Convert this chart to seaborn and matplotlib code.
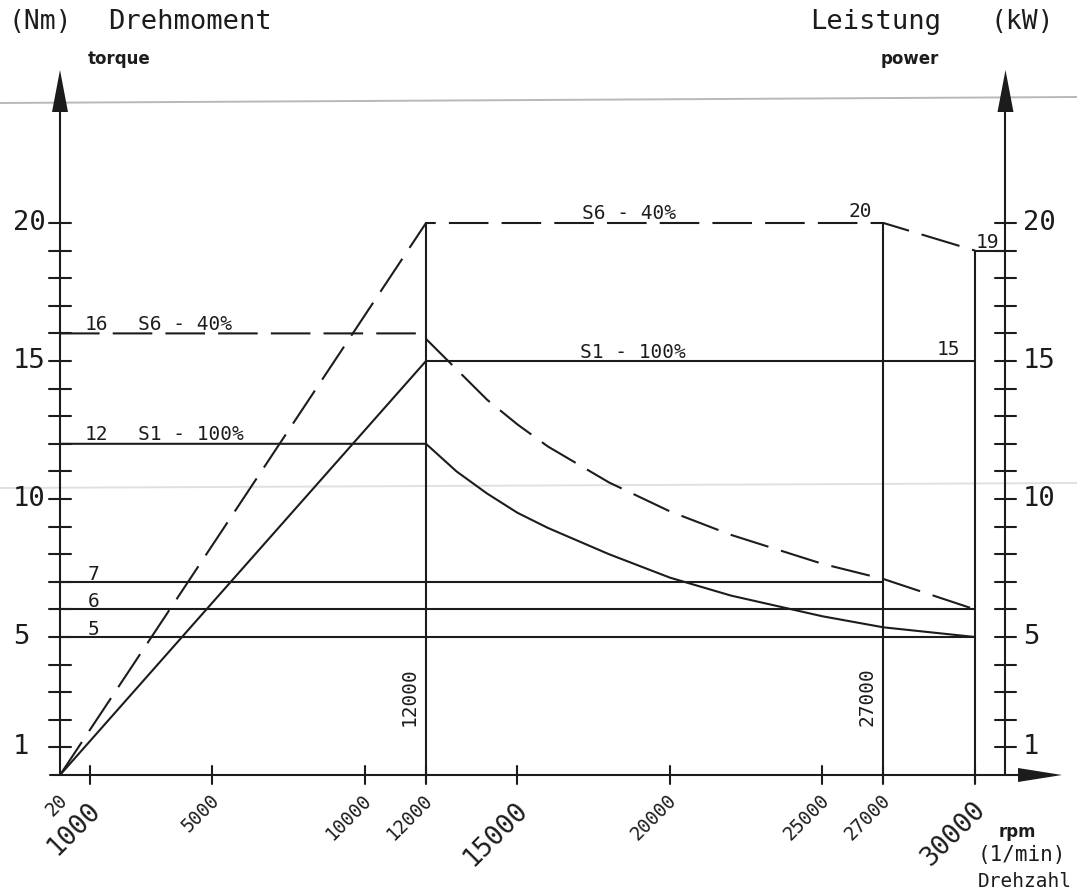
import matplotlib
matplotlib.use("Agg")
import matplotlib.pyplot as plt
import seaborn as sns
import numpy as np
import pandas as pd

# ---------------- data ----------------
# S1 - 100% torque (Nm) vs speed (1/min)
torque_s1_rpm = [0, 12000, 13000, 14000, 15000, 16000, 18000, 20000, 22000, 24000, 25000, 27000, 30000]
torque_s1 = [12, 12, 11.0, 10.2, 9.5, 8.95, 8.0, 7.15, 6.5, 6.0, 5.75, 5.35, 5.0]
# S6 - 40% torque
torque_s6_rpm = [0, 12000, 12000, 13000, 14000, 15000, 16000, 18000, 20000, 22000, 24000, 25000, 27000, 30000]
torque_s6 = [16, 16, 15.8, 14.7, 13.6, 12.7, 11.9, 10.6, 9.55, 8.7, 8.0, 7.65, 7.1, 6.0]
# S1 - 100% power (kW)
power_s1_rpm = [0, 12000, 30000]
power_s1 = [0, 15, 15]
# S6 - 40% power
power_s6_rpm = [0, 12000, 27000, 30000]
power_s6 = [0, 20, 20, 19]
# further constant torque lines
base_levels = [7, 6, 5]
base_ends = [27000, 30000, 30000]
# vertical speed marks
vert_rpm = [12000, 27000, 30000]
vert_top = [20, 20, 19]
vert_labels = ["12000", "27000", ""]
# axis ticks
y_ticks = list(range(1, 21))
y_labels = [1, 5, 10, 15, 20]
x_ticks = [1000, 5000, 10000, 12000, 15000, 20000, 25000, 27000, 30000]
x_labels = ["20", "1000", "5000", "10000", "12000", "15000", "20000", "25000", "27000", "30000"]
x_label_pos = [20, 1000, 5000, 10000, 12000, 15000, 20000, 25000, 27000, 30000]
x_label_big = [False, True, False, False, False, True, False, False, False, True]
right_axis_rpm = 31000

# ---------------- layout helpers ----------------
W, H = 1077, 893
PX0, PXS = 60.0, 0.0305     # pixel of rpm 0, pixels per rpm
PY0, PYS = 775.0, 27.6      # pixel of 0 Nm, pixels per unit


def px2x(px):
    return (px - PX0) / PXS


def py2y(py):
    return (PY0 - py) / PYS


sns.set_theme(style="white")
plt.rcParams["font.family"] = ["DejaVu Sans Mono", "DejaVu Sans"]

fig = plt.figure(figsize=(W / 100, H / 100), dpi=100)
ax = fig.add_axes([0, 0, 1, 1])
ax.set_xlim(px2x(0), px2x(W))
ax.set_ylim(py2y(H), py2y(0))
ax.axis("off")

INK = "#1c1c1c"
LW = 1.5
DASH = (19, 6.3)

# faint scan lines
ax.plot([px2x(0), px2x(W)], [py2y(103), py2y(97)], color="#b8b8b8", lw=1.4, zorder=0)
ax.plot([px2x(0), px2x(W)], [py2y(488), py2y(483)], color="#e0e0e0", lw=1.4, zorder=0)


def sline(xs, ys, dashed=False):
    df = pd.DataFrame({"rpm": xs, "val": ys})
    sns.lineplot(data=df, x="rpm", y="val", ax=ax, color=INK, lw=LW,
                 sort=False, estimator=None, legend=False)
    if dashed:
        ax.lines[-1].set_dashes(DASH)


# curves
sline(torque_s1_rpm, torque_s1)
sline(torque_s6_rpm, torque_s6, dashed=True)
sline(power_s1_rpm, power_s1)
sline(power_s6_rpm, power_s6, dashed=True)
for lev, end in zip(base_levels, base_ends):
    sline([0, end], [lev, lev])
for xv, top in zip(vert_rpm, vert_top):
    sline([xv, xv], [-0.3, top])
# ledge at 19 to right axis
sline([30000, right_axis_rpm], [19, 19])

ax.set_xlabel("")
ax.set_ylabel("")

# axes lines
ax.plot([0, 0], [0, py2y(110)], color=INK, lw=LW)
ax.plot([right_axis_rpm, right_axis_rpm], [0, py2y(110)], color=INK, lw=LW)
ax.plot([px2x(50), px2x(1020)], [0, 0], color=INK, lw=LW)
# arrows
hw = 8 / PXS
for xa in (0, right_axis_rpm):
    ax.fill([xa - hw, xa, xa + hw], [py2y(112), py2y(70), py2y(112)], color=INK, lw=0)
ax.fill([px2x(1018), px2x(1062), px2x(1018)], [7 / PYS, 0, -7 / PYS], color=INK, lw=0)

# y ticks (both axes)
ht = 10.5 / PXS
for t in y_ticks:
    ax.plot([-ht, ht], [t, t], color=INK, lw=LW)
    ax.plot([right_axis_rpm - ht, right_axis_rpm + ht], [t, t], color=INK, lw=LW)
for t in y_labels:
    ax.text(px2x(13), t, str(t), fontsize=19.5, ha="left", va="center", color=INK)
    ax.text(px2x(1023), t, str(t), fontsize=19.5, ha="left", va="center", color=INK)

# x ticks
vt = 9 / PYS
for t in x_ticks:
    ax.plot([t, t], [-vt, vt], color=INK, lw=LW)
for lab, pos, big in zip(x_labels, x_label_pos, x_label_big):
    if big:
        ax.text(pos + 6 / PXS, py2y(806), lab, fontsize=19, rotation=45,
                rotation_mode="anchor", ha="right", va="center", color=INK)
    else:
        ax.text(pos + 4 / PXS, py2y(797), lab, fontsize=13.5, rotation=45,
                rotation_mode="anchor", ha="right", va="center", color=INK)

# vertical speed labels
for xv, lab in zip(vert_rpm, vert_labels):
    if lab:
        ax.text(xv - 17 / PXS, py2y(697), lab, fontsize=14, rotation=90,
                ha="center", va="center", color=INK)

# curve annotations
ann = 14
ax.text(px2x(85), 16.12, "16", fontsize=ann, ha="left", va="baseline", color=INK)
ax.text(px2x(138), 16.12, "S6 - 40%", fontsize=ann, ha="left", va="baseline", color=INK)
ax.text(px2x(85), 12.12, "12", fontsize=ann, ha="left", va="baseline", color=INK)
ax.text(px2x(138), 12.12, "S1 - 100%", fontsize=ann, ha="left", va="baseline", color=INK)
for lev in base_levels:
    ax.text(px2x(88), lev + 0.08, str(lev), fontsize=ann, ha="left", va="baseline", color=INK)
ax.text(px2x(582), 20.15, "S6 - 40%", fontsize=ann, ha="left", va="baseline", color=INK)
ax.text(px2x(580), 15.12, "S1 - 100%", fontsize=ann, ha="left", va="baseline", color=INK)
ax.text(px2x(872), 20.2, "20", fontsize=ann, ha="right", va="baseline", color=INK)
ax.text(px2x(976), 19.1, "19", fontsize=ann, ha="left", va="baseline", color=INK)
ax.text(px2x(960), 15.2, "15", fontsize=ann, ha="right", va="baseline", color=INK)

# headers
ax.text(px2x(8), py2y(22), "(Nm)", fontsize=19, ha="left", va="center", color=INK)
ax.text(px2x(108), py2y(22), "Drehmoment", fontsize=19.5, ha="left", va="center", color=INK)
ax.text(px2x(88), py2y(59), "torque", fontsize=12, fontweight="bold", ha="left",
        va="center", color=INK, family="DejaVu Sans")
ax.text(px2x(810), py2y(22), "Leistung", fontsize=19.5, ha="left", va="center", color=INK)
ax.text(px2x(990), py2y(22), "(kW)", fontsize=19, ha="left", va="center", color=INK)
ax.text(px2x(881), py2y(59), "power", fontsize=12, fontweight="bold", ha="left",
        va="center", color=INK, family="DejaVu Sans")
ax.text(px2x(1017), py2y(832), "rpm", fontsize=12, fontweight="bold", ha="center",
        va="center", color=INK, family="DejaVu Sans")
ax.text(px2x(1022), py2y(855), "(1/min)", fontsize=15, ha="center", va="center", color=INK)
ax.text(px2x(1025), py2y(891), "Drehzahl", fontsize=14, ha="center", va="bottom", color=INK)

fig.savefig("out.png", dpi=100, facecolor="white")
